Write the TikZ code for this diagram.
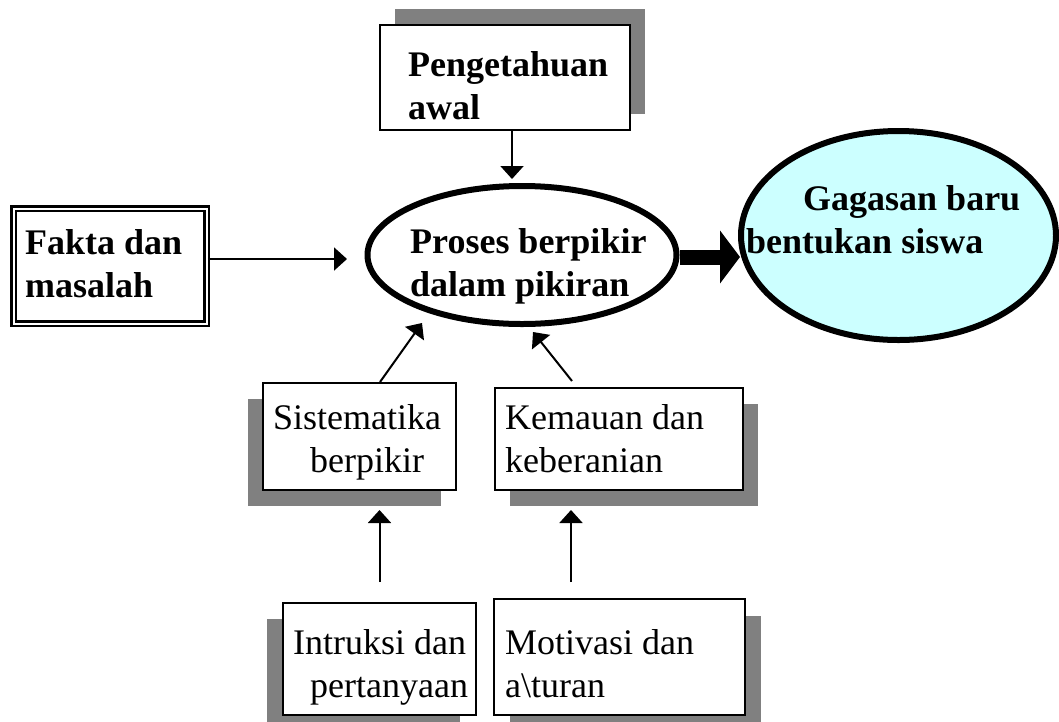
\documentclass[tikz,border=0pt]{standalone}
\usepackage{fontspec}
\setmainfont{Liberation Serif}
\usepackage{xcolor}
\usepackage{tikz}
\usetikzlibrary{shapes.geometric,shadows,arrows.meta,calc}
\definecolor{lightCyan}{HTML}{CCFFFF}
\tikzstyle{tsPlain} = [ 
    text=black, 
    font=\fontsize{36}{43}\selectfont,
    anchor=base west,
    inner sep=0pt,
    align=left
]
\tikzstyle{tsBold} = [ 
    tsPlain, 
    font=\bfseries\fontsize{36}{43}\selectfont
]
\tikzstyle{tsBox} = [ 
    rectangle,
    draw=black,
    fill=white,
    line width=2pt]
\tikzstyle{tsOval} = [ 
    ellipse,
    draw=black,
    line width=6pt]
\tikzstyle{tsArrow} = [ 
    line width=2pt,
    -{Triangle[width=23pt,length=13pt]}]
\tikzset{tsShadow/.style 2 args={
    drop shadow={shadow xshift=#1, shadow yshift=#2, opacity=1, fill=black!50}}}

\begin{document}
\begin{tikzpicture}[x=1pt, y=-1pt]

    \useasboundingbox (0,0) rectangle (1059,721);

    \node[  tsBox, 
            tsShadow={15pt}{16pt},
            minimum width=250pt,
            minimum height=105pt] (peng) at (505,77.5) {};

    \node[  tsBox, 
            double, double distance=2pt,
            line width=2.5pt,
            minimum width=193pt,
            minimum height=115pt] (fakta) at (110,266) {};

    \node[  tsOval, 
            minimum width=309pt,
            minimum height=138pt] (proses) at (522,255) {};

    \node[  tsOval, 
            fill=lightCyan,
            minimum width=315pt,
            minimum height=209pt] (gagasan) at (898.5,235.5) {};

    \node[  tsBox, 
            tsShadow={-15pt}{-16pt},
            minimum width=193pt,
            minimum height=107pt] (sist) at (359.5,436.5) {};

    \node[  tsBox, 
            tsShadow={15pt}{-16pt},
            minimum width=248pt,
            minimum height=102pt] (kem) at (619,439) {};

    \node[  tsBox, 
            tsShadow={-16pt}{-16pt},
            minimum width=193pt,
            minimum height=112pt] (intr) at (379.5,659) {};

    \node[  tsBox, 
            tsShadow={16pt}{-17pt},
            minimum width=251pt,
            minimum height=116pt] (motiv) at (619.5,657) {};

    \node[tsBold] (pengText) at (408,119) {Pengetahuan\\awal};
    \node[tsBold] (faktaText) at (25,297) {Fakta dan\\masalah};
    \node[tsBold] (prosesText) at (410,296) {Proses berpikir\\dalam pikiran};
    \node[tsBold] (gagasanText) at (746,253) {\hspace*{57pt}Gagasan baru\\bentukan siswa};
    \node[tsPlain] (sistText) at (273,472) {Sistematika\\\hspace*{37pt}berpikir};
    \node[tsPlain] (kemText) at (505,472) {Kemauan dan\\keberanian};
    \node[tsPlain] (intrText) at (293,697) {Intruksi dan\\\hspace*{17pt}pertanyaan};
    \node[tsPlain] (motivText) at (505,697) {Motivasi dan\\a\textbackslash turan};

    \coordinate (pengTip) at (512,179);
    \coordinate (faktaTip) at (347,259);
    \coordinate (gagasanTip) at (740,257);
    \coordinate (sistFoot) at (380,382);
    \coordinate (sistTip) at (422,323);
    \coordinate (kemFoot) at (572,381);
    \coordinate (kemTip) at (533,332);
    \coordinate (motivX) at (571,0);

    \draw[tsArrow] (peng.south -| pengTip) -- (pengTip);
    \draw[tsArrow] (fakta.east |- faktaTip) -- (faktaTip);
    \draw[line width=15pt, -{Triangle[width=52pt,length=20pt]}]
        (proses.east |- gagasanTip) -- (gagasanTip);
    \draw[tsArrow] (sist.north -| sistFoot) -- (sistTip);
    \draw[tsArrow] (kemFoot) -- (kemTip);
    \draw[tsArrow, shorten <=20pt, shorten >=19pt] (intr.north) -- (intr.north |- sist.south);
    \draw[tsArrow, shorten <=16pt, shorten >=19pt] (motiv.north -| motivX) -- (kem.south -| motivX);

\end{tikzpicture}
\end{document}
